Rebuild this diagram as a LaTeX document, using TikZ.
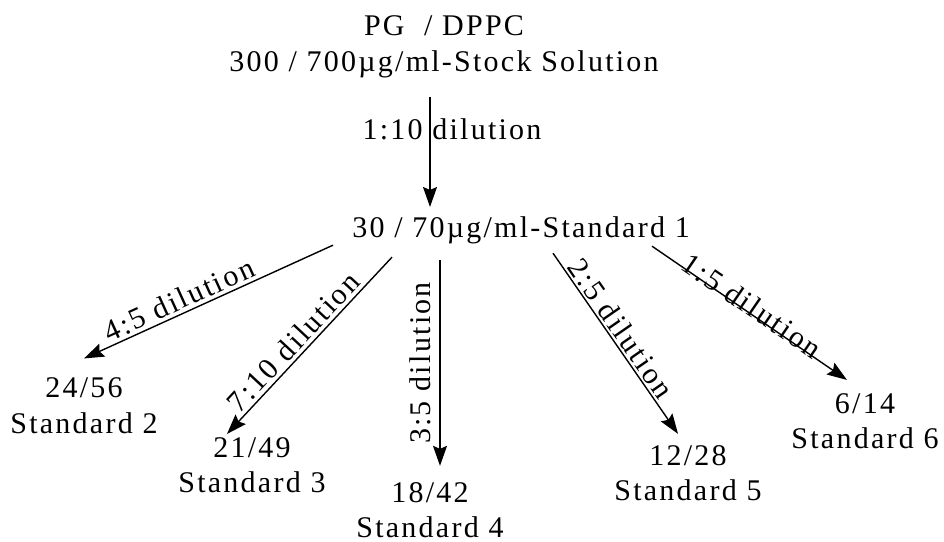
\documentclass[tikz,border=0pt]{standalone}
\usepackage{fontspec}
\setmainfont[LetterSpace=7.5]{Liberation Serif}
\usetikzlibrary{arrows.meta}
\begin{document}
\begin{tikzpicture}[x=1pt,y=-1pt,
  txt/.style={inner sep=0pt, font=\fontsize{30}{35.5}\selectfont, align=center},
  lbl/.style={inner sep=0pt, font=\fontsize{30}{36}\selectfont},
  arr/.style={line width=1.4pt, -{Stealth[length=20pt,width=14pt,inset=3pt]}}]
\fill[white] (0,0) rectangle (944,541);
\useasboundingbox (0,0) rectangle (944,541);

\node[txt, anchor=base] (top) at (444,71) {PG\ \ / DPPC\\300 / 700µg/ml-Stock Solution};
\node[txt, anchor=base] (s1) at (521,237) {30 / 70µg/ml-Standard 1};
\node[txt, anchor=base] (s2) at (84,433) {24/56\\Standard 2};
\node[txt, anchor=base] (s3) at (252,492.5) {21/49\\Standard 3};
\node[txt, anchor=base] (s4) at (430,537.5) {18/42\\Standard 4};
\node[txt, anchor=base] (s5) at (688,500.5) {12/28\\Standard 5};
\node[txt, anchor=base] (s6) at (865,448.5) {6/14\\Standard 6};

\draw[arr] ([xshift=-14pt,yshift=-19pt]top.south) -- ([xshift=-91pt,yshift=9pt]s1.north)
  node[lbl, pos=0.3, xshift=22pt] {1:10 dilution};

\draw[arr] ([xshift=-188pt,yshift=-1.5pt]s1.south) -- ([yshift=19pt]s2.north)
  node[lbl, pos=0.595, sloped, above=3pt] {4:5 dilution};
\draw[arr] ([xshift=-129pt,yshift=-13.5pt]s1.south) -- ([xshift=-25pt,yshift=3pt]s3.north)
  node[lbl, pos=0.535, sloped, above=3pt] {7:10 dilution};
\draw[arr] ([xshift=-81pt,yshift=-16.5pt]s1.south) -- ([xshift=10pt,yshift=16pt]s4.north)
  node[lbl, pos=0.5, rotate=90, anchor=south, outer sep=9pt] {3:5 dilution};
\draw[arr] ([xshift=32pt,yshift=-9.5pt]s1.south) -- ([xshift=-10pt,yshift=11pt]s5.north)
  node[lbl, pos=0.458, sloped, above=2pt] {2:5 dilution};
\draw[arr] ([xshift=131pt,yshift=-2.5pt]s1.south) -- ([xshift=-18pt,yshift=13pt]s6.north)
  node[lbl, pos=0.49, sloped, above=-4pt] {1:5 dilution};
\end{tikzpicture}
\end{document}
